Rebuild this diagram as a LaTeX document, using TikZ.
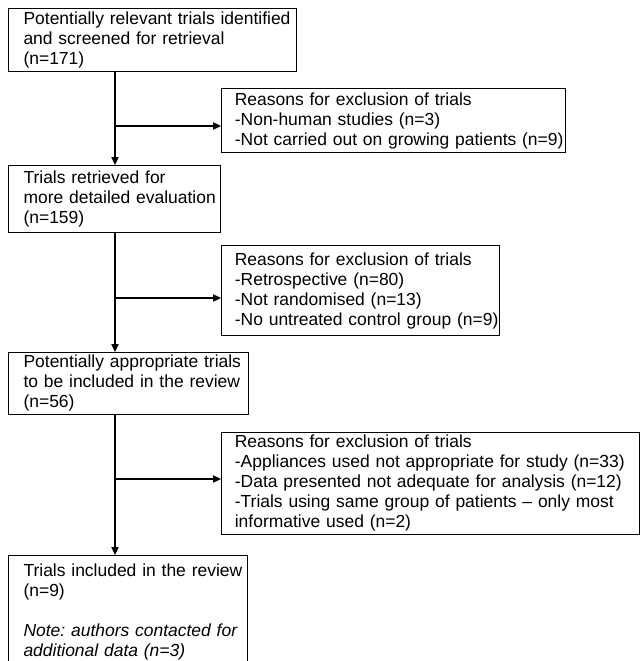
\documentclass[tikz,border=0pt]{standalone}
\usepackage{fontspec}
\setmainfont{Liberation Sans}
\usetikzlibrary{arrows.meta}

\begin{document}
\begin{tikzpicture}[x=0.75pt, y=-0.75pt, line width=0.8pt, ->,
      >={Triangle[length=6pt,width=5.5pt]},
      every node/.append style={font=\fontsize{13.1pt}{15pt}\selectfont\frenchspacing},
      box/.style={draw, anchor=north west, align=left, inner xsep=0pt, inner ysep=2pt},
      trial/.style={box, execute at begin node={\leftskip=11.25pt}},
      reason/.style={box, execute at begin node={\leftskip=10pt}}]
    \useasboundingbox (0,0) rectangle (641,661);
    \node[trial, text width=216pt, minimum height=47.25pt] (found) at (8,8)
      {Potentially relevant trials identified\\and screened for retrieval\\(n=171)};
    \node[reason, text width=258pt, minimum height=48pt] (why1) at (221,88)
      {Reasons for exclusion of trials\\-Non-human studies (n=3)\\-Not carried out on growing patients (n=9)};
    \node[trial, text width=159pt, minimum height=50.25pt] (fetched) at (8,165)
      {Trials retrieved for\\more detailed evaluation\\(n=159)};
    \node[reason, text width=208.5pt, minimum height=67.5pt] (why2) at (221,245)
      {Reasons for exclusion of trials\\-Retrospective (n=80)\\-Not randomised (n=13)\\-No untreated control group (n=9)};
    \node[trial, text width=180pt, minimum height=45.75pt] (fit) at (8,352)
      {Potentially appropriate trials\\to be included in the review\\(n=56)};
    \node[reason, text width=313.5pt, minimum height=75.75pt] (why3) at (221,432)
      {Reasons for exclusion of trials\\-Appliances used not appropriate for study (n=33)\\-Data presented not adequate for analysis (n=12)\\-Trials using same group of patients -- only most\\informative used (n=2)};
    \node[trial, text width=179.25pt, inner ysep=6pt] (kept) at (8,555)
      {Trials included in the review\\(n=9)\\[15pt]\itshape Note: authors contacted for\\\itshape additional data (n=3)};
    \coordinate (spine) at (115,0);
    \coordinate (k1) at (115,126);
    \coordinate (k2) at (115,298);
    \coordinate (k3) at (115,479);
    \draw (found.south -| spine) -- (fetched.north -| spine);
    \draw (fetched.south -| spine) -- (fit.north -| spine);
    \draw (fit.south -| spine) -- (kept.north -| spine);
    \draw (k1) -- (k1 -| why1.west);
    \draw (k2) -- (k2 -| why2.west);
    \draw (k3) -- (k3 -| why3.west);
\end{tikzpicture}
\end{document}
